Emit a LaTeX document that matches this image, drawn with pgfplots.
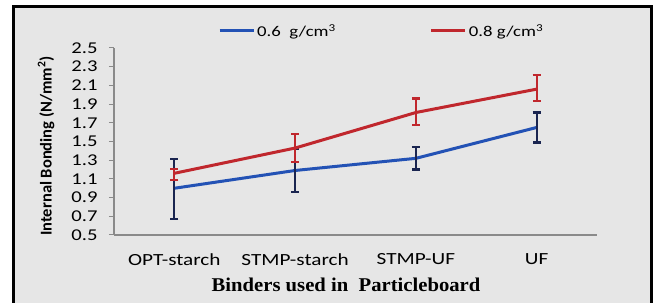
\documentclass[border=0pt]{standalone}
\usepackage{fontspec}
\setmainfont{Carlito}
\newfontfamily\calib[FakeStretch=1.25]{Carlito}
\newfontfamily\timesb[FakeStretch=1.06]{Liberation Serif}
\usepackage{pgfplots}
\pgfplotsset{compat=1.18}
\definecolor{bg}{HTML}{E6E6E6}
\definecolor{bl}{HTML}{2352B5}
\definecolor{navy}{HTML}{1A2550}
\definecolor{rd}{HTML}{C0272D}
\definecolor{axgray}{HTML}{8A8A8A}
\pgfplotstableread{
x y ep em
0 1.00 0.31 0.33
1 1.19 0.23 0.23
2 1.32 0.12 0.12
3 1.65 0.16 0.16
}\lowd
\pgfplotstableread{
x y ep em
0 1.16 0.05 0.07
1 1.43 0.15 0.15
2 1.81 0.15 0.13
3 2.06 0.15 0.13
}\highd
\begin{document}
\begin{tikzpicture}[x=1pt,y=1pt]
\useasboundingbox (0,0) rectangle (657,303);
\fill[bg] (12,0) rectangle (653,298);
\draw[black,line width=3pt] (13.5,0) -- (13.5,296.5) -- (651.5,296.5) -- (651.5,0);
\begin{axis}[
  at={(114pt,68pt)}, anchor=south west,
  scale only axis, width=483pt, height=187pt,
  xmin=-0.5, xmax=3.5, ymin=0.5, ymax=2.5,
  axis x line*=bottom, axis y line*=left,
  axis line style={axgray, line width=1.2pt, -},
  xtick={0,1,2,3}, xticklabels={OPT-starch,STMP-starch,STMP-UF,UF},
  x tick style={draw=none},
  ytick={0.5,0.7,0.9,1.1,1.3,1.5,1.7,1.9,2.1,2.3,2.5},
  y tick style={axgray, line width=1pt},
  tick align=outside, major tick length=5pt,
  yticklabel style={font=\calib\fontsize{16.5}{18}\selectfont, anchor=east, xshift=-8pt},
  xticklabel style={font=\calib\fontsize{17}{19}\selectfont, anchor=north, yshift=-10pt},
  yticklabel={\pgfmathprintnumber[fixed,fixed zerofill,precision=1,assume math mode=true]{\tick}},
  legend columns=2,
  legend style={at={(0.2153,1.091)}, anchor=west, draw=none, fill=none,
    font=\calib\fontsize{15}{17}\selectfont, inner xsep=0pt, inner ysep=0pt,
    /tikz/every even column/.append style={column sep=92pt}},
  legend image code/.code={\draw[#1] (0pt,0pt) -- (34pt,0pt);},
  clip=false,
]
\addplot[bl, line width=3pt, mark=none,
  error bars/.cd, y dir=both, y explicit,
  error bar style={navy, line width=2.2pt},
  error mark options={navy, line width=2.2pt, rotate=90, mark size=4pt}]
  table[x=x, y=y, y error plus=ep, y error minus=em] {\lowd};
\addlegendentry{0.6\ \ g/cm\textsuperscript{3}}
\addplot[rd, line width=3pt, mark=none,
  error bars/.cd, y dir=both, y explicit,
  error bar style={rd, line width=2.2pt},
  error mark options={rd, line width=2.2pt, rotate=90, mark size=4pt}]
  table[x=x, y=y, y error plus=ep, y error minus=em] {\highd};
\addlegendentry{0.8 g/cm\textsuperscript{3}}
\end{axis}
\node[font=\timesb\bfseries\fontsize{19.5}{21}\selectfont] at (346,18) {Binders used in\ \ Particleboard};
\node[rotate=90, font=\bfseries\fontsize{16.5}{18}\selectfont] at (46,157) {Internal Bonding (N/mm\textsuperscript{2})};
\end{tikzpicture}
\end{document}
